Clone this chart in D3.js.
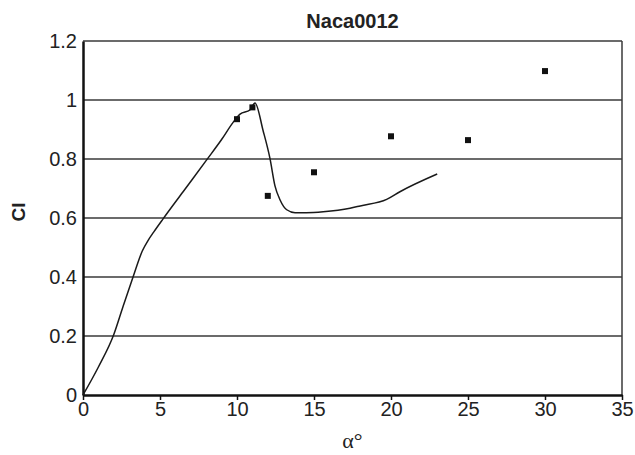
<!DOCTYPE html>
<html>
<head>
<meta charset="utf-8">
<script src="https://cdn.jsdelivr.net/npm/d3@7"></script>
<style>
  html, body { margin: 0; padding: 0; background: #fff; }
  svg { display: block; }
</style>
</head>
<body>
<svg id="chart" width="635" height="455"></svg>
<script>
// Lift coefficient of the NACA 0012 section versus angle of attack
const chartTitle = "Naca0012";
const xTicks = [0, 5, 10, 15, 20, 25, 30, 35];
const yTicks = [0, 0.2, 0.4, 0.6, 0.8, 1, 1.2];

// Computed curve: angle (deg) and Cl
const curveAlpha = [0, 1, 2, 2.6, 3.25, 3.85, 4.25, 4.6, 5.2, 6.5, 8.03, 9, 9.76, 10.2, 10.84, 11.17,
                    11.7, 12.14, 12.47, 12.79, 13.23, 13.77, 14.5, 15.6, 17.34, 18, 19.72, 20.58, 23];
const curveCl    = [0, 0.095, 0.205, 0.3, 0.4, 0.488, 0.526, 0.553, 0.597, 0.689, 0.797, 0.866, 0.925, 0.952, 0.966, 0.99,
                    0.895, 0.802, 0.708, 0.662, 0.628, 0.618, 0.618, 0.621, 0.633, 0.641, 0.663, 0.689, 0.749];

// Measured points
const pointAlpha = [10, 11, 12, 15, 20, 25, 30];
const pointCl    = [0.935, 0.975, 0.675, 0.755, 0.877, 0.864, 1.098];

const svg = d3.select("#chart");
const m = { left: 83, right: 13, top: 41, bottom: 60 };
const W = 635, H = 455;

const x = d3.scaleLinear().domain([0, 35]).range([m.left, W - m.right]);
const y = d3.scaleLinear().domain([0, 1.2]).range([H - m.bottom, m.top]);

// horizontal gridlines (top one doubles as the frame edge)
svg.append("g").selectAll("line")
  .data(yTicks.filter(d => d > 0))
  .join("line")
  .attr("x1", x(0)).attr("x2", x(35))
  .attr("y1", d => y(d)).attr("y2", d => y(d))
  .attr("stroke", "#3a3a3a").attr("stroke-width", 1.5);

// right frame edge
svg.append("line")
  .attr("x1", x(35)).attr("x2", x(35))
  .attr("y1", y(0)).attr("y2", y(1.2))
  .attr("stroke", "#3a3a3a").attr("stroke-width", 1.5);

// x axis
const xAxis = svg.append("g")
  .attr("transform", `translate(0,${y(0)})`)
  .call(d3.axisBottom(x).tickValues(xTicks).tickSize(5).tickSizeOuter(0).tickPadding(2));
xAxis.select(".domain").attr("stroke", "#111").attr("stroke-width", 2.5);
xAxis.selectAll(".tick line").attr("stroke", "#111").attr("stroke-width", 1.5);
xAxis.selectAll("text")
  .attr("font-family", "Liberation Sans, Arial, sans-serif")
  .attr("font-size", 20).attr("fill", "#222");

// y axis
const yAxis = svg.append("g")
  .attr("transform", `translate(${x(0)},0)`)
  .call(d3.axisLeft(y).tickValues(yTicks).tickFormat(d3.format("~g")).tickSize(0).tickSizeOuter(0).tickPadding(6));
yAxis.select(".domain").attr("stroke", "#111").attr("stroke-width", 2.5);
yAxis.selectAll("text")
  .attr("font-family", "Liberation Sans, Arial, sans-serif")
  .attr("font-size", 20).attr("fill", "#222");

// computed curve
const curveData = curveAlpha.map((a, i) => [a, curveCl[i]]);
svg.append("path")
  .datum(curveData)
  .attr("fill", "none")
  .attr("stroke", "#1a1a1a")
  .attr("stroke-width", 1.5)
  .attr("d", d3.line().x(d => x(d[0])).y(d => y(d[1])).curve(d3.curveMonotoneX));

// measured points as small squares
const s = 6;
svg.append("g").selectAll("rect")
  .data(pointAlpha.map((a, i) => [a, pointCl[i]]))
  .join("rect")
  .attr("x", d => x(d[0]) - s / 2)
  .attr("y", d => y(d[1]) - s / 2)
  .attr("width", s).attr("height", s)
  .attr("fill", "#111");

// title
svg.append("text")
  .attr("x", (x(0) + x(35)) / 2).attr("y", 28)
  .attr("text-anchor", "middle")
  .attr("font-family", "Liberation Sans, Arial, sans-serif")
  .attr("font-weight", "bold").attr("font-size", 20).attr("fill", "#222")
  .text(chartTitle);

// y label
svg.append("text")
  .attr("transform", `translate(25,${y(0.6) - 6}) rotate(-90)`)
  .attr("text-anchor", "middle")
  .attr("font-family", "Liberation Sans, Arial, sans-serif")
  .attr("font-weight", "bold").attr("font-size", 19).attr("fill", "#222")
  .text("Cl");

// x label
svg.append("text")
  .attr("x", (x(0) + x(35)) / 2).attr("y", 448)
  .attr("text-anchor", "middle")
  .attr("font-family", "Liberation Serif, Times New Roman, serif")
  .attr("font-size", 22).attr("fill", "#222")
  .text("α°");
</script>
</body>
</html>
